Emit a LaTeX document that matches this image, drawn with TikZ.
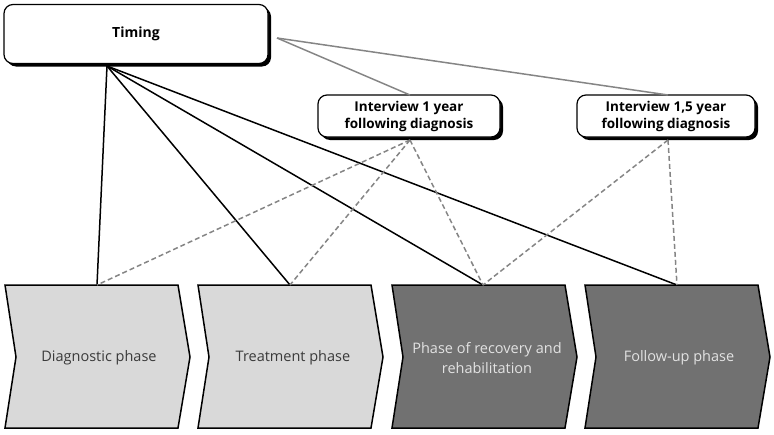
\documentclass[tikz,border=0pt]{standalone}
\usepackage{fontspec}
\setmainfont{Open Sans}
\usetikzlibrary{shadows}

\definecolor{phaselight}{HTML}{D9D9D9}
\definecolor{phasedark}{HTML}{717171}
\definecolor{linkgray}{HTML}{858585}
\definecolor{textdark}{HTML}{3A3A3A}
\definecolor{textlight}{HTML}{E2E2E2}

\tikzset{
  timebox/.style={draw, line width=1.2pt, fill=white, rounded corners=9pt,
    align=center, inner sep=0pt, font=\bfseries,
    drop shadow={shadow xshift=3pt, shadow yshift=-3pt, fill=black, opacity=1}},
  phasebox/.style={draw, line width=1.5pt, line join=miter},
  phaselabel/.style={align=center, font=\fontsize{14.5}{20}\selectfont},
  timeline/.style={line width=1.5pt},
  interline/.style={line width=1.5pt, linkgray},
  planline/.style={line width=1.5pt, linkgray, dash pattern=on 5pt off 3pt}
}

\begin{document}
\begin{tikzpicture}[x=1pt, y=-1pt]
\useasboundingbox (0,0) rectangle (774,434);

% ===== TOP: timing and interviews =====
\node[timebox, minimum width=264pt, minimum height=59pt,
  font=\bfseries\fontsize{14}{16}\selectfont] (timing) at (136,34) {Timing};
\node[timebox, minimum width=182pt, minimum height=42pt,
  font=\bfseries\fontsize{13.5}{17}\selectfont] (int1) at (409,116)
  {Interview 1 year\\following diagnosis};
\node[timebox, minimum width=178pt, minimum height=42pt,
  font=\bfseries\fontsize{13.5}{17}\selectfont] (int2) at (666,116)
  {Interview 1,5 year\\following diagnosis};

% anchor points for the connectors
\coordinate (tbot) at (107,66);
\coordinate (tright) at (277,38);
\coordinate (int1top) at (410,95);
\coordinate (int2top) at (668,95);
\coordinate (int1bot) at (410,140);
\coordinate (int2bot) at (668,140);

% ===== BOTTOM: phases (chevrons) =====
\draw[phasebox, fill=phaselight] (5,285) -- ++(173,0) -- ++(12,72) -- ++(-12,71)
  -- ++(-173,0) -- ++(11,-71) -- cycle;
\draw[phasebox, fill=phaselight] (198,285) -- ++(173,0) -- ++(12,72) -- ++(-12,71)
  -- ++(-173,0) -- ++(11,-71) -- cycle;
\draw[phasebox, fill=phasedark] (392,285) -- ++(173,0) -- ++(12,72) -- ++(-12,71)
  -- ++(-173,0) -- ++(11,-71) -- cycle;
\draw[phasebox, fill=phasedark] (585,285) -- ++(173,0) -- ++(12,72) -- ++(-12,71)
  -- ++(-173,0) -- ++(11,-71) -- cycle;

\node[phaselabel, textdark] (diag) at (99,358) {Diagnostic phase};
\node[phaselabel, textdark] (treat) at (293,358) {Treatment phase};
\node[phaselabel, textlight] (rehab) at (487,358) {Phase of recovery and\\rehabilitation};
\node[phaselabel, textlight] (follow) at (679,358) {Follow-up phase};

% top edge points of the phases
\coordinate (p1) at (97,285);
\coordinate (p2) at (290,285);
\coordinate (p3) at (483,285);
\coordinate (p4) at (677,285);

% ===== CONNECTORS =====
% timing to phases
\draw[timeline] (tbot) -- (p1);
\draw[timeline] (tbot) -- (p2);
\draw[timeline] (tbot) -- (p3);
\draw[timeline] (tbot) -- (p4);
% timing to interviews
\draw[interline] (tright) -- (int1top);
\draw[interline] (tright) -- (int2top);
% interviews to phases
\draw[planline] (int1bot) -- (p1);
\draw[planline] (int1bot) -- (p2);
\draw[planline] (int1bot) -- (p3);
\draw[planline] (int2bot) -- (p3);
\draw[planline] (int2bot) -- (p4);
\end{tikzpicture}
\end{document}
